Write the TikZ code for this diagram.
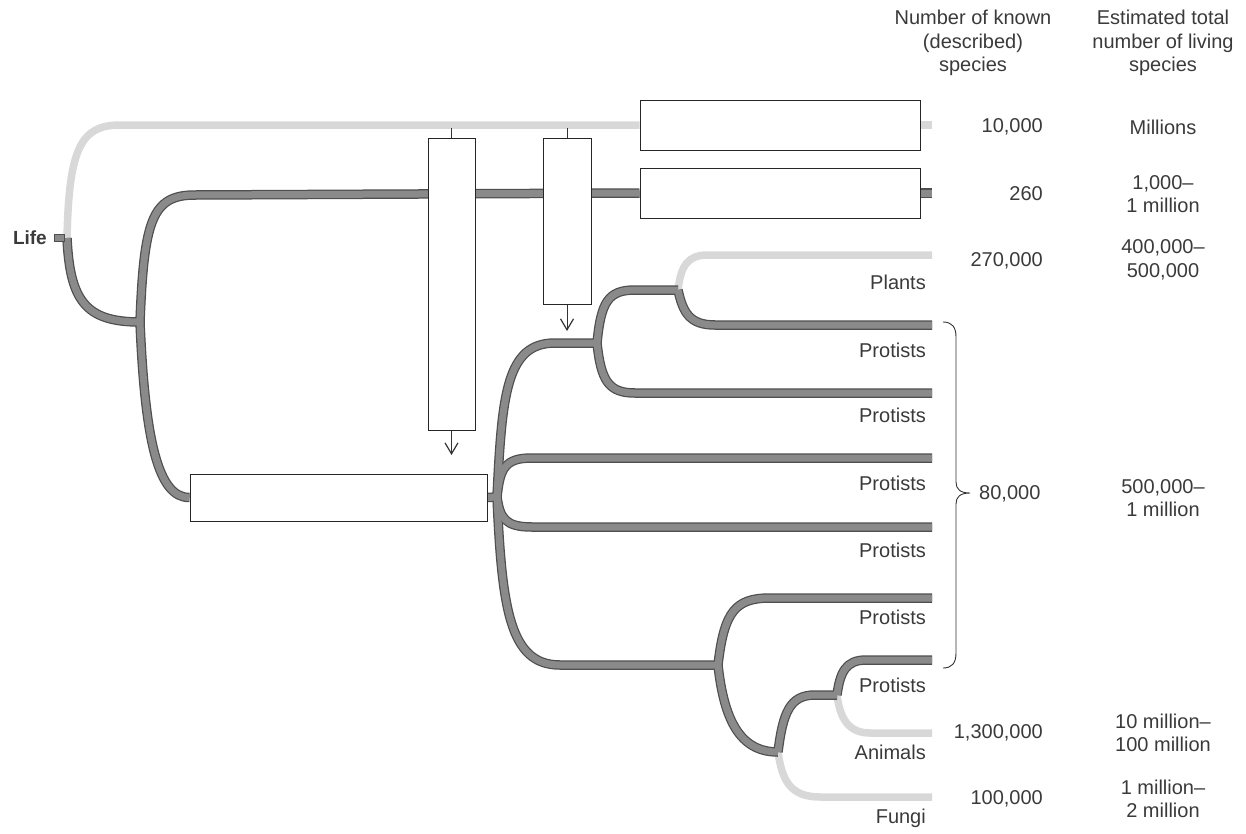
\documentclass[tikz,border=0pt]{standalone}
\usepackage{fontspec}
\setmainfont{Liberation Sans}
\usetikzlibrary{arrows.meta,calc}
\definecolor{brfill}{HTML}{8A8A8A}
\definecolor{brline}{HTML}{4F4F4F}
\definecolor{lightbr}{HTML}{D8D8D8}
\definecolor{txt}{HTML}{3A3A3A}
\newcommand\darkbranches[1]{%
  \draw[#1] (r) .. controls (70,300) and (85,322) .. (n1);
  \draw[#1] (n1) .. controls (144,220) and (152,195) .. (195,195) -- (b2.west);
  \draw[#1] (b2.east) -- (e2);
  \draw[#1] (n1) .. controls (145,440) and (158,498) .. (b3.west);
  \draw[#1] (b3.east) -- (n2);
  \draw[#1] (n2) .. controls (502,395) and (506,343) .. (555,343) -- (n3);
  \draw[#1] (n2) .. controls (500,468) and (505,458) .. (532,458) -- (p3);
  \draw[#1] (n2) .. controls (500,518) and (505,527) .. (532,527) -- (p4);
  \draw[#1] (n2) .. controls (502,610) and (510,665) .. (560,665) -- (n5);
  \draw[#1] (n3) .. controls (601,302) and (608,290) .. (635,290) -- (n4);
  \draw[#1] (n3) .. controls (601,380) and (608,393) .. (635,393) -- (p2);
  \draw[#1] (n4) .. controls (683,313) and (690,325) .. (715,325) -- (p1);
  \draw[#1] (n5) .. controls (724,612) and (735,598) .. (770,598) -- (p5);
  \draw[#1] (n5) .. controls (724,720) and (740,752) .. (n6);
  \draw[#1] (n6) .. controls (783,712) and (790,695) .. (815,695) -- (n7);
  \draw[#1] (n7) .. controls (840,672) and (846,660) .. (866,660) -- (p6);
}
\begin{document}
\begin{tikzpicture}[x=1pt,y=-1pt,
  font=\fontsize{20}{23.5}\selectfont, text=txt,
  outer/.style={draw=brline,line width=9.5pt},
  inner/.style={draw=brfill,line width=7pt},
  lightline/.style={draw=lightbr,line width=7.5pt},
  box/.style={draw=black!85,fill=white,line width=1pt,inner sep=0pt,minimum width=#1},
  box/.default=10pt,
  thin/.style={draw=black!80,line width=1pt},
  lbl/.style={anchor=east,inner sep=0pt},
  num/.style={anchor=east,inner sep=0pt},
  est/.style={align=center,inner sep=0pt},
  hdr/.style={align=center,inner sep=0pt}]
\useasboundingbox (0,0) rectangle (1246,833);
% junction and end coordinates
\coordinate (r) at (67,238);
\coordinate (n1) at (140,322);
\coordinate (n2) at (497,497);
\coordinate (n3) at (597,343);
\coordinate (n4) at (678,290);
\coordinate (n5) at (718,665);
\coordinate (n6) at (778,752);
\coordinate (n7) at (837,695);
\coordinate (e1) at (932,125);
\coordinate (e2) at (932,193);
\coordinate (pl) at (932,255);
\coordinate (p1) at (932,325);
\coordinate (p2) at (932,393);
\coordinate (p3) at (932,458);
\coordinate (p4) at (932,527);
\coordinate (p5) at (932,598);
\coordinate (p6) at (932,660);
\coordinate (an) at (932,733);
\coordinate (fu) at (932,797);
% horizontal boxes (placed first so their anchors exist)
\node[box=280pt,minimum height=50pt] (b1) at (780,125) {};
\node[box=280pt,minimum height=50pt] (b2) at (780,193) {};
\node[box=297pt,minimum height=47pt] (b3) at (338.5,497.5) {};
% light branches
\draw[lightline] (r) .. controls (69,150) and (80,125) .. (120,125) -- (b1.west);
\draw[lightline] (b1.east) -- (e1);
\draw[lightline] (n4) .. controls (681,265) and (688,255) .. (708,255) -- (pl);
\draw[lightline] (n7) .. controls (840,718) and (848,733) .. (870,733) -- (an);
\draw[lightline] (n6) .. controls (782,780) and (790,797) .. (820,797) -- (fu);
% dark branches: outline then fill
\darkbranches{outer}
\darkbranches{inner}
% boxes on top
\node[box=280pt,minimum height=50pt] at (b1) {};
\node[box=280pt,minimum height=50pt] at (b2) {};
\node[box=297pt,minimum height=47pt] at (b3) {};
\node[box=47pt,minimum height=292pt] (va) at (451.5,284) {};
\node[box=48pt,minimum height=166pt] (vb) at (567,221) {};
\coordinate (ta) at (451.5,128);
\coordinate (tb) at (567,128);
\coordinate (aa) at (451.5,455);
\coordinate (ab) at (567,331);
\draw[thin] (ta) -- (va.north);
\draw[thin] (tb) -- (vb.north);
\draw[thin,-{Straight Barb[length=11pt,width=13pt,line width=1.2pt]}] (va.south) -- (aa);
\draw[thin,-{Straight Barb[length=11pt,width=13pt,line width=1.2pt]}] (vb.south) -- (ab);
% Life
\node[draw=brline,fill=brfill,minimum width=10pt,minimum height=7pt,inner sep=0pt,line width=0.8pt] (ls) at (59,238) {};
\node[anchor=east,inner sep=0pt,font=\fontsize{19}{22}\selectfont\bfseries] (life) at (47,238) {Life};
% branch labels
\node[lbl] (tpl) at (926,282) {Plants};
\node[lbl] (t1) at (926,350) {Protists};
\node[lbl] (t2) at (926,415) {Protists};
\node[lbl] (t3) at (926,483) {Protists};
\node[lbl] (t4) at (926,550) {Protists};
\node[lbl] (t5) at (926,617) {Protists};
\node[lbl] (t6) at (926,685) {Protists};
\node[lbl] (tan) at (926,752) {Animals};
\node[lbl] (tfu) at (926,818) {Fungi};
% brace
\coordinate (bt) at (943,322);
\coordinate (bb) at (943,668);
\coordinate (btip) at (970,493);
\draw[thin,line width=0.9pt] (bt) .. controls (952,322) and (956,327) .. (956,337) -- (956,482)
  .. controls (956,489) and (960,493) .. (btip)
  .. controls (960,493) and (956,497) .. (956,504) -- (956,653)
  .. controls (956,663) and (952,668) .. (bb);
% headers
\node[hdr] (h1) at (973,43) {Number of known\\(described)\\species};
\node[hdr] (h2) at (1163,43) {Estimated total\\number of living\\species};
% known numbers
\node[num] at (1043,127) {10,000};
\node[num] at (1043,194) {260};
\node[num] at (1043,261) {270,000};
\node[anchor=west,inner sep=0pt] at (979,494) {80,000};
\node[num] at (1043,733) {1,300,000};
\node[num] at (1043,799) {100,000};
% estimates
\node[est] at (1163,127) {Millions};
\node[est] at (1163,194) {1,000–\\1 million};
\node[est] at (1163,260) {400,000–\\500,000};
\node[est] at (1163,498) {500,000–\\1 million};
\node[est] at (1163,733) {10 million–\\100 million};
\node[est] at (1163,799) {1 million–\\2 million};
\end{tikzpicture}
\end{document}
